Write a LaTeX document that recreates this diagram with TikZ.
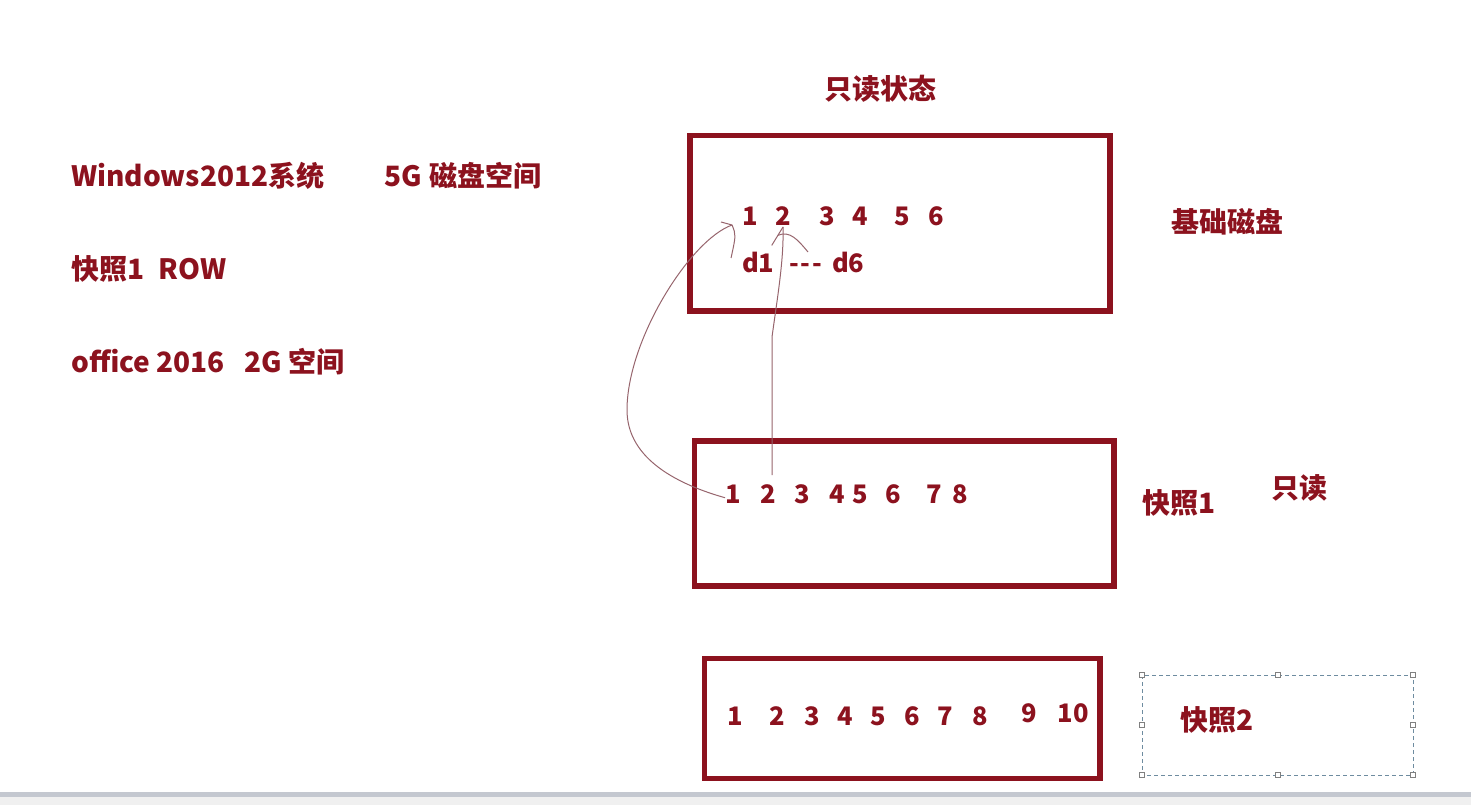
\documentclass[tikz,border=0pt]{standalone}
\usepackage{fontspec}
\setmainfont{Noto Sans CJK SC}[Ligatures=TeXOff]
\definecolor{wine}{RGB}{140,18,30}
\definecolor{ink}{RGB}{150,100,108}
\definecolor{selblue}{RGB}{110,140,160}
\definecolor{bargray}{RGB}{196,200,208}
\tikzset{
  box/.style={draw=wine, line width=5.5pt},
  lbl/.style={anchor=base west, inner sep=0pt, text=wine, font=\fontsize{28}{32}\selectfont\bfseries},
  num/.style={anchor=base, inner sep=0pt, text=wine, font=\fontsize{25.5}{30}\selectfont\bfseries},
  pen/.style={draw=ink, line width=1pt},
  sel/.style={draw=selblue, line width=.8pt, dash pattern=on 4pt off 3pt},
  handle/.style={draw=gray, fill=white, line width=.6pt, minimum size=5pt, inner sep=0pt}
}
\begin{document}
\begin{tikzpicture}[x=1pt, y=-1pt]
\useasboundingbox (0,0) rectangle (1471,805);

\node[lbl] (sys) at (71,186) {Windows2012系统};
\node[lbl] (disk) at (384,186) {5G\hspace{8pt}磁盘空间};
\node[lbl] (row) at (71,279) {快照1\hspace{14pt}ROW};
\node[lbl] (office) at (71,372) {office 2016\hspace{20pt}2G 空间};

\node[lbl] (ro) at (824,100) {只读状态};
\node[lbl] (base) at (1171,232) {基础磁盘};
\node[lbl] (snap1) at (1142,513) {快照1};
\node[lbl] (ro1) at (1271,498) {只读};
\node[lbl] (snap2) at (1180,730) {快照2};

\draw[box] (690,135.5) rectangle (1110,311);
\draw[box] (694.5,441) rectangle (1114,586);
\draw[box] (704.5,658.5) rectangle (1100,778.5);

\foreach \x [count=\i] in {750,783,827,860,902,936}
  \node[num] (b1-\i) at (\x,225) {\i};
\node[num, anchor=base west] (d1) at (742,272) {d1};
\node[num, anchor=base west] (dash) at (789,272) {-\hspace{2pt}-\hspace{2pt}-};
\node[num, anchor=base west] (d6) at (832,272) {d6};

\foreach \x [count=\i] in {733,768,802,837,860,893,934,960}
  \node[num] (s1-\i) at (\x,503) {\i};

\foreach \x/\y [count=\i] in {735/725,777/725,812/725,845/725,878/725,912/725,945/725,980/725,1029/722,1073/722}
  \node[num] (s2-\i) at (\x,\y) {\i};

\coordinate (tipA) at ([xshift=-10pt]b1-1.base west);
\coordinate (tipB) at ([yshift=-2pt]b1-2.base);
\coordinate (arcEnd) at (808,252);

\draw[pen] ([yshift=-4pt]s1-1.west) .. controls (680,485) and (627,460) .. (627,410)
  .. controls (627,340) and (690,240) .. (tipA);
\draw[pen] ([shift={(-11pt,3pt)}]tipA) -- (tipA) .. controls ([shift={(4pt,-10pt)}]tipA) .. ([shift={(-1pt,-33pt)}]tipA);

\draw[pen] ([xshift=4pt,yshift=28pt]s1-2.base) -- (772,337) .. controls (777,300) and (784,260) .. (tipB);
\draw[pen] (tipB) -- coordinate[pos=.45] (fork) ([shift={(-3pt,6pt)}]d1.north east);
\draw[pen] (fork) .. controls +(12,-5) and +(-10,-12) .. (arcEnd);

\draw[sel] (1142,675) rectangle (1413,775);
\foreach \p [count=\k] in {(1142,675),(1277.5,675),(1413,675),(1142,725),(1413,725),(1142,775),(1277.5,775),(1413,775)}
  \node[handle] (h\k) at \p {};

\fill[bargray] (0,791.5) rectangle (1471,797);
\fill[black!6] (0,797) rectangle (1471,805);
\end{tikzpicture}
\end{document}
